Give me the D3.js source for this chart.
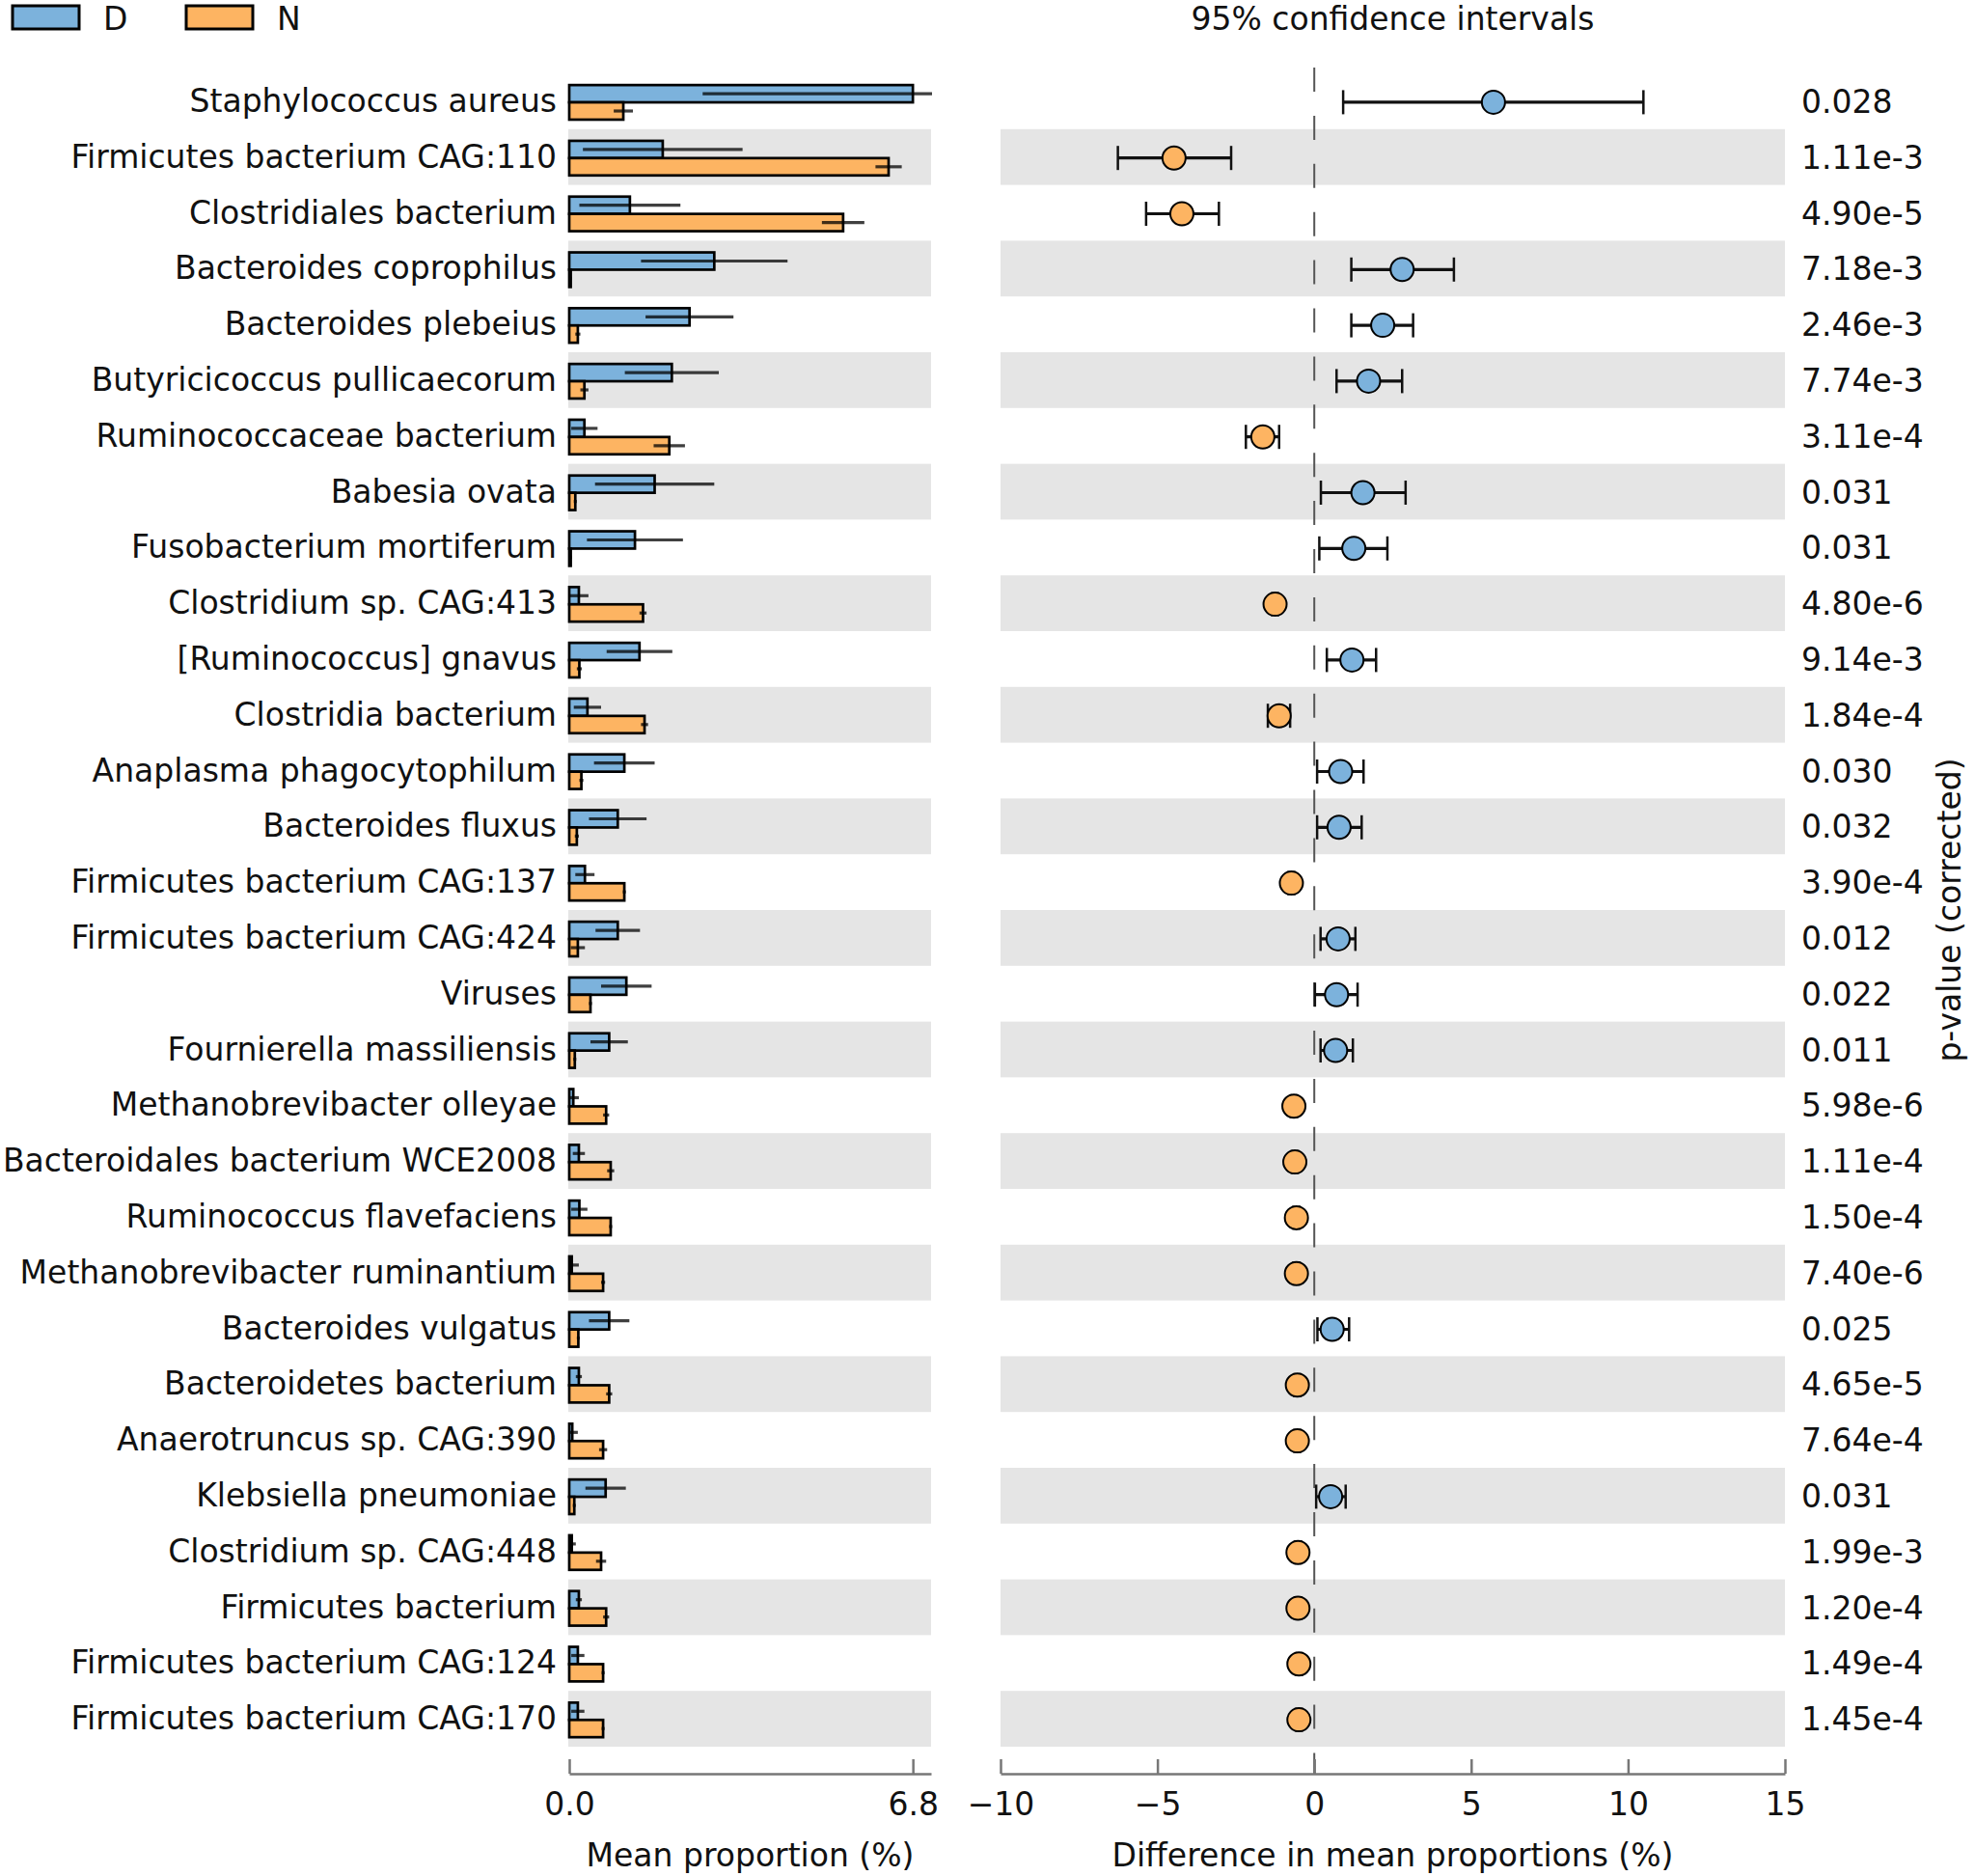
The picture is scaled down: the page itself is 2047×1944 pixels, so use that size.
<!DOCTYPE html>
<html><head><meta charset="utf-8">
<script src="https://cdn.jsdelivr.net/npm/d3@7"></script>
<style>body{margin:0;background:#fff} text{font-family:"DejaVu Sans",sans-serif;fill:#111}</style>
</head><body><svg id="c" width="2047" height="1944"></svg>
<script>
const categories = ["Staphylococcus aureus","Firmicutes bacterium CAG:110","Clostridiales bacterium","Bacteroides coprophilus","Bacteroides plebeius","Butyricicoccus pullicaecorum","Ruminococcaceae bacterium","Babesia ovata","Fusobacterium mortiferum","Clostridium sp. CAG:413","[Ruminococcus] gnavus","Clostridia bacterium","Anaplasma phagocytophilum","Bacteroides fluxus","Firmicutes bacterium CAG:137","Firmicutes bacterium CAG:424","Viruses","Fournierella massiliensis","Methanobrevibacter olleyae","Bacteroidales bacterium WCE2008","Ruminococcus flavefaciens","Methanobrevibacter ruminantium","Bacteroides vulgatus","Bacteroidetes bacterium","Anaerotruncus sp. CAG:390","Klebsiella pneumoniae","Clostridium sp. CAG:448","Firmicutes bacterium","Firmicutes bacterium CAG:124","Firmicutes bacterium CAG:170"];
const meanD = [6.80,1.85,1.20,2.87,2.38,2.03,0.30,1.69,1.30,0.19,1.39,0.36,1.09,0.96,0.31,0.96,1.13,0.79,0.08,0.19,0.20,0.05,0.79,0.19,0.06,0.72,0.05,0.19,0.17,0.17];
const sdD   = [4.16,1.58,1.00,1.45,0.87,0.93,0.26,1.18,0.95,0.19,0.65,0.27,0.60,0.57,0.19,0.44,0.50,0.37,0.11,0.12,0.16,0.14,0.40,0.06,0.11,0.40,0.08,0.06,0.13,0.13];
const meanN = [1.07,6.32,5.42,0.03,0.17,0.30,1.98,0.12,0.03,1.46,0.20,1.49,0.24,0.15,1.09,0.17,0.42,0.11,0.73,0.82,0.82,0.67,0.18,0.79,0.67,0.10,0.63,0.73,0.67,0.67];
const sdN   = [0.19,0.26,0.42,0.02,0.05,0.08,0.31,0.03,0.02,0.07,0.05,0.07,0.04,0.04,0.03,0.14,0.03,0.03,0.06,0.07,0.03,0.04,0.03,0.06,0.08,0.03,0.10,0.06,0.03,0.03];
const diff   = [5.71,-4.47,-4.22,2.80,2.18,1.73,-1.64,1.55,1.26,-1.25,1.20,-1.12,0.84,0.79,-0.73,0.76,0.71,0.68,-0.65,-0.62,-0.57,-0.57,0.57,-0.54,-0.54,0.52,-0.52,-0.52,-0.49,-0.49];
const ciLow  = [0.92,-6.26,-5.36,1.18,1.18,0.71,-2.18,0.21,0.16,-1.35,0.40,-1.48,0.09,0.09,-0.83,0.20,0.02,0.20,-0.75,-0.72,-0.67,-0.67,0.10,-0.64,-0.64,0.06,-0.62,-0.62,-0.59,-0.59];
const ciHigh = [10.49,-2.65,-3.04,4.45,3.15,2.80,-1.12,2.91,2.33,-1.15,1.97,-0.77,1.57,1.51,-0.63,1.31,1.38,1.23,-0.55,-0.52,-0.47,-0.47,1.11,-0.44,-0.44,1.00,-0.42,-0.42,-0.39,-0.39];
const pValues = ["0.028","1.11e-3","4.90e-5","7.18e-3","2.46e-3","7.74e-3","3.11e-4","0.031","0.031","4.80e-6","9.14e-3","1.84e-4","0.030","0.032","3.90e-4","0.012","0.022","0.011","5.98e-6","1.11e-4","1.50e-4","7.40e-6","0.025","4.65e-5","7.64e-4","0.031","1.99e-3","1.20e-4","1.49e-4","1.45e-4"];
const groups = ["D","N"];
const leftTicks = [0, 6.8];
const leftTickLabels = ["0.0","6.8"];
const rightTicks = [-10,-5,0,5,10,15];
const colors = {D:"#7cb2dc", N:"#fdb462"};

const svg = d3.select("#c");
const FS = 33;
const y = d3.scaleBand().domain(categories).range([76,1810]);
const bw = y.bandwidth();
const yg = d3.scaleBand().domain(groups).range([0.21*bw, 0.83*bw]);
const xL = d3.scaleLinear().domain([0,7.16]).range([590,965]);
const xR = d3.scaleLinear().domain([-10,15]).range([1037,1850]);
const rows = categories.map((c,i)=>({c,i,D:meanD[i],sD:sdD[i],N:meanN[i],sN:sdN[i],diff:diff[i],lo:ciLow[i],hi:ciHigh[i],p:pValues[i]}));

svg.append("rect").attr("width",2047).attr("height",1944).attr("fill","#fff");

// bands
const banded = rows.filter(r=>r.i%2===1);
svg.append("g").selectAll("rect").data(banded).join("rect")
  .attr("x",589).attr("width",376).attr("y",r=>y(r.c)).attr("height",bw).attr("fill","#e5e5e5");
svg.append("g").selectAll("rect").data(banded).join("rect")
  .attr("x",xR(-10)).attr("width",xR(15)-xR(-10)).attr("y",r=>y(r.c)).attr("height",bw).attr("fill","#e5e5e5");

// clip for left panel
svg.append("clipPath").attr("id","clipL").append("rect").attr("x",580).attr("y",60).attr("width",966-580).attr("height",1800);

// bars
const gBars = svg.append("g").attr("clip-path","url(#clipL)");
groups.forEach(g=>{
  gBars.append("g").selectAll("rect").data(rows).join("rect")
    .attr("x",xL(0)).attr("y",r=>y(r.c)+yg(g)).attr("height",yg.bandwidth())
    .attr("width",r=>Math.max(0.5,xL(r[g])-xL(0)))
    .attr("fill",colors[g]).attr("stroke","#000").attr("stroke-width",2.7);
});
groups.forEach(g=>{
  const s = g==="D"?"sD":"sN";
  gBars.append("g").selectAll("line").data(rows).join("line")
    .attr("x1",r=>xL(Math.max(0,r[g]-r[s]))).attr("x2",r=>xL(r[g]+r[s]))
    .attr("y1",r=>y(r.c)+yg(g)+yg.bandwidth()/2).attr("y2",r=>y(r.c)+yg(g)+yg.bandwidth()/2)
    .attr("stroke","#000").attr("stroke-opacity",0.75).attr("stroke-width",3.2);
});

// zero dashed line
svg.append("line").attr("x1",xR(0)).attr("x2",xR(0)).attr("y1",70).attr("y2",1838)
  .attr("stroke","#555").attr("stroke-width",2).attr("stroke-dasharray","25 24.9");

// CI
const gCI = svg.append("g");
const cy = r=>y(r.c)+bw/2+1;
gCI.selectAll("line.ci").data(rows).join("line").attr("class","ci")
  .attr("x1",r=>xR(r.lo)).attr("x2",r=>xR(r.hi)).attr("y1",cy).attr("y2",cy)
  .attr("stroke","#111").attr("stroke-width",3.2);
["lo","hi"].forEach(k=>{
  gCI.append("g").selectAll("line").data(rows).join("line")
    .attr("x1",r=>xR(r[k])).attr("x2",r=>xR(r[k])).attr("y1",r=>cy(r)-12.5).attr("y2",r=>cy(r)+12.5)
    .attr("stroke","#111").attr("stroke-width",2.5);
});
gCI.selectAll("circle").data(rows).join("circle")
  .attr("cx",r=>xR(r.diff)).attr("cy",cy).attr("r",12)
  .attr("fill",r=>r.diff>0?colors.D:colors.N).attr("stroke","#000").attr("stroke-width",2);

// category labels
svg.append("g").selectAll("text").data(rows).join("text")
  .attr("x",577).attr("y",r=>y(r.c)+bw/2+11).attr("text-anchor","end").attr("font-size",FS).text(r=>r.c);
// p-values
svg.append("g").selectAll("text").data(rows).join("text")
  .attr("x",1867).attr("y",r=>y(r.c)+bw/2+12).attr("font-size",FS).text(r=>r.p);

// axes
function styleAxis(g){
  g.select(".domain").attr("stroke","#777").attr("stroke-width",2.5);
  g.selectAll(".tick line").attr("stroke","#777").attr("stroke-width",2.5);
  g.selectAll(".tick text").attr("font-size",FS).attr("font-family","DejaVu Sans").attr("fill","#111");
}
const axL = d3.axisBottom(xL).tickValues(leftTicks).tickFormat((d,i)=>leftTickLabels[i]).tickSizeInner(-15).tickSizeOuter(0).tickPadding(20);
svg.append("g").attr("transform","translate(0,1838)").call(axL).call(styleAxis);
const axR = d3.axisBottom(xR).tickValues(rightTicks).tickFormat(d3.format("d")).tickSizeInner(-15).tickSizeOuter(0).tickPadding(20);
svg.append("g").attr("transform","translate(0,1838)").call(axR).call(styleAxis);

// axis titles
svg.append("text").attr("x",(xL.range()[0]+xL.range()[1])/2).attr("y",1934).attr("text-anchor","middle").attr("font-size",FS).text("Mean proportion (%)");
svg.append("text").attr("x",(xR.range()[0]+xR.range()[1])/2).attr("y",1934).attr("text-anchor","middle").attr("font-size",FS).text("Difference in mean proportions (%)");
svg.append("text").attr("x",(xR.range()[0]+xR.range()[1])/2).attr("y",31).attr("text-anchor","middle").attr("font-size",FS).text("95% confidence intervals");
svg.append("text").attr("transform","translate(2032,943) rotate(-90)").attr("text-anchor","middle").attr("font-size",FS).text("p-value (corrected)");

// legend
const leg = svg.append("g");
groups.forEach((g,i)=>{
  const x0 = 13 + i*180;
  leg.append("rect").attr("x",x0).attr("y",6).attr("width",69).attr("height",24).attr("fill",colors[g]).attr("stroke","#000").attr("stroke-width",3);
  leg.append("text").attr("x",x0+94).attr("y",31).attr("font-size",FS).text(g);
});
</script></body></html>
